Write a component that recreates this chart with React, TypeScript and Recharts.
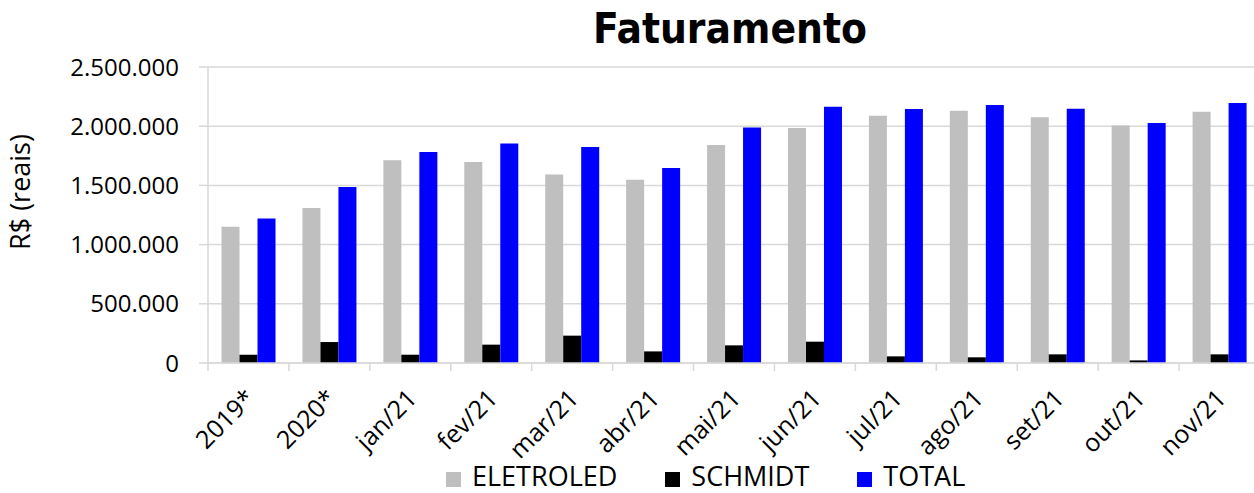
import { BarChart, Bar, XAxis, YAxis, CartesianGrid, Legend } from 'recharts';

const categories = ['2019*', '2020*', 'jan/21', 'fev/21', 'mar/21', 'abr/21', 'mai/21', 'jun/21', 'jul/21', 'ago/21', 'set/21', 'out/21', 'nov/21'];
const eletroled = [1150000, 1310000, 1712000, 1698000, 1593000, 1548000, 1841000, 1985000, 2089000, 2131000, 2075000, 2005000, 2123000];
const schmidt = [70000, 177000, 70000, 155000, 231000, 98000, 149000, 180000, 56000, 48000, 73000, 22000, 73000];
const total = [1220000, 1487000, 1782000, 1853000, 1824000, 1646000, 1990000, 2165000, 2145000, 2179000, 2148000, 2027000, 2196000];
const yTicks = [0, 500000, 1000000, 1500000, 2000000, 2500000];

const series = [
  { key: 'ELETROLED', color: '#bfbfbf' },
  { key: 'SCHMIDT', color: '#000000' },
  { key: 'TOTAL', color: '#0000ff' },
];

const data = categories.map((c, i) => ({
  name: c,
  ELETROLED: eletroled[i],
  SCHMIDT: schmidt[i],
  TOTAL: total[i],
}));

const W = 1254;
const H = 493;
const LEFT = 208;
const RIGHT = -6;
const TOP = 67;
const PLOT_W = W - LEFT - RIGHT;
const BAND = PLOT_W / categories.length;
const FONT = '"Open Sans", "Noto Sans", sans-serif';
const GRID = '#d9d9d9';

const fmt = (v: number) => String(v).replace(/\B(?=(\d{3})+(?!\d))/g, '.');

const XTick = (props: any) => {
  const { x, y, payload, index } = props;
  const top = y - 8;
  const ex = x + 8;
  const ey = top + 37;
  return (
    <g>
      <line x1={x - BAND / 2} y1={top} x2={x - BAND / 2} y2={top + 8} stroke={GRID} strokeWidth={1.5} />
      {index === categories.length - 1 && (
        <line x1={x + BAND / 2} y1={top} x2={x + BAND / 2} y2={top + 8} stroke={GRID} strokeWidth={1.5} />
      )}
      <text x={ex} y={ey} transform={`rotate(-45 ${ex} ${ey})`} textAnchor="end" fontSize={25} fontFamily={FONT} fill="#000">
        {payload.value}
      </text>
    </g>
  );
};

const YLabel = () => (
  <text x={30} y={192} transform="rotate(-90 30 192)" textAnchor="middle" fontSize={27} fontFamily={FONT} fill="#000">
    R$ (reais)
  </text>
);

const LegendContent = () => (
  <div style={{ display: 'flex', alignItems: 'center', fontFamily: FONT, fontSize: 27, lineHeight: '26px', color: '#000' }}>
    {series.map((s) => (
      <div key={s.key} style={{ display: 'flex', alignItems: 'center', marginRight: 48 }}>
        <span style={{ display: 'inline-block', width: 15, height: 15, background: s.color, marginRight: 11, transform: 'translateY(3px)' }} />
        <span>{s.key}</span>
      </div>
    ))}
  </div>
);

export default function App() {
  return (
    <div style={{ position: 'absolute', left: 0, top: 0, width: W, height: H, background: '#fff', overflow: 'hidden' }}>
      <div
        style={{
          position: 'absolute',
          left: 204,
          width: PLOT_W,
          top: 4,
          textAlign: 'center',
          fontFamily: '"DejaVu Sans Condensed", "DejaVu Sans", sans-serif',
          fontWeight: 'bold',
          fontSize: 42,
          lineHeight: '50px',
          zIndex: 1,
        }}
      >
        Faturamento
      </div>
      <BarChart
        width={W}
        height={H}
        data={data}
        margin={{ top: TOP, right: RIGHT, left: 0, bottom: 0 }}
        barCategoryGap="16.7%"
        barGap={0}
      >
        <CartesianGrid vertical={false} stroke={GRID} strokeWidth={1.5} />
        <XAxis
          dataKey="name"
          height={130}
          interval={0}
          axisLine={{ stroke: GRID, strokeWidth: 1.5 }}
          tickLine={false}
          tick={<XTick />}
        />
        <YAxis
          width={LEFT}
          domain={[0, 2500000]}
          ticks={yTicks}
          tickFormatter={fmt}
          axisLine={{ stroke: GRID, strokeWidth: 1.5 }}
          tickLine={{ stroke: GRID, strokeWidth: 1.5 }}
          tickSize={9}
          tickMargin={20}
          tick={{ fontSize: 24, fontFamily: FONT, fill: '#000' }}
          label={<YLabel />}
        />
        <Legend
          verticalAlign="middle"
          align="center"
          layout="horizontal"
          content={<LegendContent />}
          wrapperStyle={{ top: 463, left: 446, width: 'auto' }}
        />
        {series.map((s) => (
          <Bar key={s.key} dataKey={s.key} fill={s.color} isAnimationActive={false} />
        ))}
      </BarChart>
    </div>
  );
}
